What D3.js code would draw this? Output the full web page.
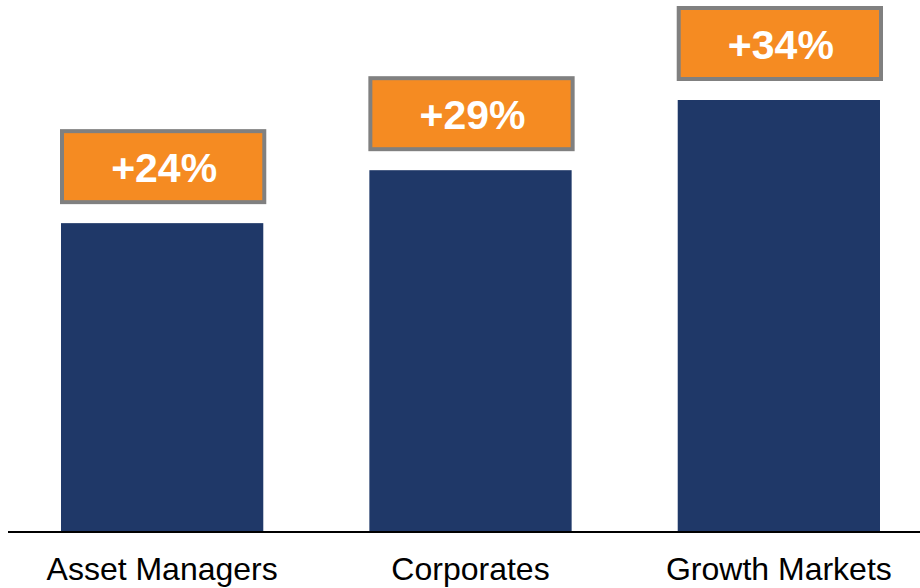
<!DOCTYPE html>
<html>
<head>
<meta charset="utf-8">
<script src="https://cdn.jsdelivr.net/npm/d3@7/dist/d3.min.js"></script>
<style>
  html, body { margin: 0; padding: 0; background: #fff; }
  svg { display: block; }
</style>
</head>
<body>
<script>
// segments and their (relative) bar heights
const categories = ["Asset Managers", "Corporates", "Growth Markets"];
const values = [100, 117.2, 140];
const growthLabels = ["+24%", "+29%", "+34%"];

const width = 920, height = 588;
const baseY = 531;

const svg = d3.select("body").append("svg")
  .attr("width", width)
  .attr("height", height);

const x = d3.scaleBand()
  .domain(categories)
  .range([61, 880])
  .paddingInner(0.344)
  .paddingOuter(0);

const y = d3.scaleLinear()
  .domain([0, 140])
  .range([baseY, 100]);

// bars
svg.selectAll(".bar")
  .data(categories)
  .enter()
  .append("rect")
  .attr("class", "bar")
  .attr("x", d => x(d))
  .attr("y", (d, i) => y(values[i]))
  .attr("width", x.bandwidth())
  .attr("height", (d, i) => baseY - y(values[i]))
  .attr("fill", "#1f3868");

// baseline
svg.append("line")
  .attr("x1", 8)
  .attr("x2", width)
  .attr("y1", baseY + 1)
  .attr("y2", baseY + 1)
  .attr("stroke", "#000")
  .attr("stroke-width", 2);

// orange growth boxes above each bar
const boxH = 71, gap = 21;
const boxes = svg.selectAll(".growth")
  .data(categories)
  .enter()
  .append("g")
  .attr("class", "growth");

boxes.append("rect")
  .attr("x", d => x(d) + 1)
  .attr("y", (d, i) => y(values[i]) - gap - boxH)
  .attr("width", x.bandwidth())
  .attr("height", boxH)
  .attr("fill", "#f58b22")
  .attr("stroke", "#808080")
  .attr("stroke-width", 4);

boxes.append("text")
  .attr("x", d => x(d) + x.bandwidth() / 2 + 2)
  .attr("y", (d, i) => y(values[i]) - gap - boxH / 2 + 15)
  .attr("text-anchor", "middle")
  .attr("font-family", "Liberation Sans, Arial, sans-serif")
  .attr("font-weight", "bold")
  .attr("font-size", 41)
  .attr("fill", "#fff")
  .text((d, i) => growthLabels[i]);

// category labels
svg.selectAll(".cat")
  .data(categories)
  .enter()
  .append("text")
  .attr("class", "cat")
  .attr("x", d => x(d) + x.bandwidth() / 2)
  .attr("y", 580)
  .attr("text-anchor", "middle")
  .attr("font-family", "Liberation Sans, Arial, sans-serif")
  .attr("font-size", 32)
  .attr("fill", "#000")
  .text(d => d);
</script>
</body>
</html>
